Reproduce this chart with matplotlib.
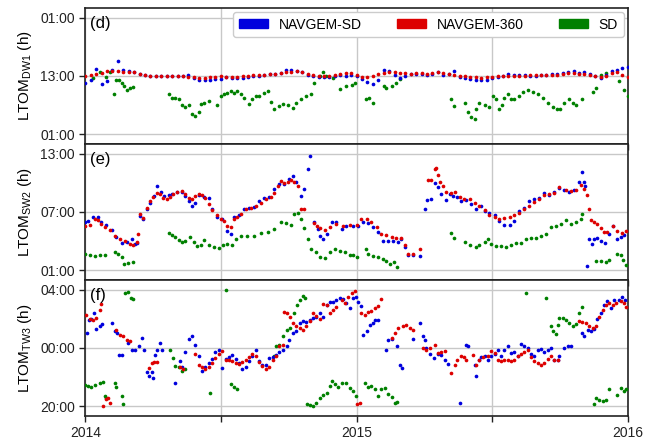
import matplotlib
matplotlib.use("Agg")
import matplotlib.pyplot as plt
from matplotlib.patches import Patch
from matplotlib.ticker import FuncFormatter

plt.rcParams['font.family'] = ['Liberation Sans', 'DejaVu Sans']
plt.rcParams['mathtext.fontset'] = 'custom'
plt.rcParams['mathtext.rm'] = 'Liberation Sans'

BLUE = '#0000dd'
RED = '#dd0000'
GREEN = '#008000'

# ---- panel (d): DW1 -------------------------------------------------------
d_grid_x = [2014.00, 2014.02, 2014.04, 2014.06, 2014.08, 2014.10, 2014.12, 2014.14, 2014.16, 2014.18,
            2014.20, 2014.22, 2014.24, 2014.26, 2014.28, 2014.30, 2014.32, 2014.34, 2014.36, 2014.38,
            2014.40, 2014.42, 2014.44, 2014.46, 2014.48, 2014.50, 2014.52, 2014.54, 2014.56, 2014.58,
            2014.60, 2014.62, 2014.64, 2014.66, 2014.68, 2014.70, 2014.72, 2014.74, 2014.76, 2014.78,
            2014.80, 2014.82, 2014.84, 2014.86, 2014.88, 2014.90, 2014.92, 2014.94, 2014.96, 2014.98,
            2015.00, 2015.02, 2015.04, 2015.06, 2015.08, 2015.10, 2015.12, 2015.14, 2015.16, 2015.18,
            2015.20, 2015.22, 2015.24, 2015.26, 2015.28, 2015.30, 2015.32, 2015.34, 2015.36, 2015.38,
            2015.40, 2015.42, 2015.44, 2015.46, 2015.48, 2015.50, 2015.52, 2015.54, 2015.56, 2015.58,
            2015.60, 2015.62, 2015.64, 2015.66, 2015.68, 2015.70, 2015.72, 2015.74, 2015.76, 2015.78,
            2015.80, 2015.82, 2015.84, 2015.86, 2015.88, 2015.90, 2015.92, 2015.94, 2015.96, 2015.98,
            2016.00]
d_360 = [13.07, 13.27, 13.47, 13.68, 13.95, 14.08, 13.95, 13.88, 13.81, 13.75,
         13.47, 13.27, 13.07, 13.07, 13.07, 13.07, 13.07, 13.00, 12.93, 12.80,
         12.73, 12.59, 12.66, 12.73, 12.80, 12.93, 12.86, 12.80, 12.86, 13.00,
         13.07, 13.14, 13.20, 13.27, 13.41, 13.47, 13.61, 13.75, 13.88, 13.95,
         13.88, 13.47, 13.20, 13.07, 12.93, 12.93, 13.27, 13.47, 13.61, 13.54,
         13.27, 12.86, 12.80, 13.07, 13.34, 13.61, 13.88, 13.88, 13.68, 13.54,
         13.47, 13.61, 13.54, 13.47, 13.61, 13.75, 13.54, 13.34, 13.20, 13.07,
         12.93, 12.80, 12.73, 12.66, 12.73, 12.86, 13.00, 13.07, 13.07, 13.07,
         13.07, 13.07, 13.14, 13.14, 13.20, 13.20, 13.20, 13.27, 13.41, 13.54,
         13.61, 13.47, 13.34, 13.20, 13.07, 12.80, 13.07, 13.61, 13.81, 13.27,
         12.80]
d_sdnav = [11.58, 12.12, 14.40, 11.44, 11.92, 14.29, 16.00, 14.15, 13.95, 13.75,
           13.47, 13.20, 13.00, 12.93, 12.93, 12.93, 13.00, 13.07, 13.07, 13.14,
           12.59, 12.12, 12.25, 12.25, 12.32, 12.39, 12.73, 12.59, 12.52, 12.59,
           12.73, 12.93, 13.07, 13.20, 13.34, 13.47, 13.68, 14.29, 14.15, 13.95,
           13.75, 13.20, 12.93, 12.80, 12.80, 12.80, 12.93, 13.20, 13.07, 13.20,
           13.07, 12.39, 11.85, 11.30, 12.25, 14.15, 13.95, 13.20, 12.66, 12.93,
           13.34, 13.47, 13.34, 13.27, 13.47, 13.75, 13.27, 13.47, 13.95, 12.80,
           12.52, 12.39, 12.25, 12.25, 12.25, 12.52, 12.80, 13.07, 13.47, 13.27,
           13.20, 13.20, 13.07, 13.07, 13.20, 13.20, 13.34, 13.47, 13.61, 13.75,
           13.95, 13.61, 13.75, 13.47, 12.93, 12.59, 13.20, 13.95, 14.15, 14.63,
           14.76]
d_sd_x = [2014.028, 2014.053, 2014.075, 2014.090, 2014.105, 2014.115, 2014.124, 2014.134, 2014.142, 2014.152, 2014.165, 2014.175,
          2014.307, 2014.319, 2014.332, 2014.344, 2014.356, 2014.369, 2014.381, 2014.394, 2014.406, 2014.418,
          2014.425, 2014.439, 2014.455, 2014.486, 2014.499, 2014.511, 2014.524, 2014.536, 2014.548, 2014.561,
          2014.573, 2014.585, 2014.604, 2014.616, 2014.629, 2014.641, 2014.660, 2014.672, 2014.684, 2014.697,
          2014.715, 2014.728, 2014.746, 2014.765, 2014.777, 2014.796, 2014.814, 2014.833, 2014.845, 2014.864,
          2014.876, 2014.889,
          2014.914, 2014.939, 2014.963, 2014.982, 2014.994, 2015.034, 2015.047, 2015.059, 2015.100, 2015.110,
          2015.129, 2015.145, 2015.159,
          2015.349, 2015.358, 2015.400, 2015.411, 2015.423, 2015.435, 2015.441, 2015.453, 2015.472, 2015.490,
          2015.502, 2015.515, 2015.527, 2015.537, 2015.545, 2015.558, 2015.570, 2015.582, 2015.600, 2015.615,
          2015.631, 2015.650, 2015.668, 2015.686, 2015.705, 2015.723, 2015.738, 2015.750, 2015.766, 2015.782,
          2015.797, 2015.809, 2015.833, 2015.870, 2015.882, 2015.901, 2015.919, 2015.968, 2015.987, 2016.000]
d_sd = [12.6, 13.75, 12.8, 13.75, 9.2, 12.25, 12.1, 11.6, 11.0, 10.2, 10.6, 10.8,
        9.2, 8.5, 8.4, 8.2, 7.0, 6.7, 7.0, 5.1, 4.8, 5.5,
        7.2, 7.4, 7.85, 7.0, 8.9, 9.2, 9.5, 9.9, 9.5, 9.9,
        9.2, 8.5, 7.2, 8.2, 8.9, 8.9, 9.4, 9.9, 7.6, 6.2,
        6.8, 7.2, 7.0, 6.5, 7.5, 8.2, 8.9, 9.3, 11.6, 13.0,
        13.75, 12.9,
        12.5, 10.4, 10.9, 11.2, 11.6, 8.2, 8.5, 7.4, 11.0, 10.6,
        10.9, 11.6, 12.4,
        8.3, 6.8, 7.5, 5.5, 4.5, 4.1, 6.2, 7.5, 7.0, 6.7,
        8.9, 8.2, 6.2, 7.0, 8.5, 9.2, 8.3, 8.2, 8.9, 9.7,
        10.1, 9.7, 9.2, 8.5, 7.5, 6.7, 6.3, 6.3, 7.5, 8.2,
        7.5, 7.0, 8.3, 9.7, 10.6, 13.3, 13.6, 11.9, 10.2, 8.9]

# ---- panel (e): SW2 -------------------------------------------------------
e_360_x = [2014.000, 2014.016, 2014.035, 2014.047, 2014.059, 2014.072, 2014.090, 2014.109, 2014.127, 2014.146,
           2014.165, 2014.177, 2014.189, 2014.196, 2014.202, 2014.214, 2014.226, 2014.239, 2014.251, 2014.264,
           2014.276, 2014.288, 2014.301, 2014.313, 2014.325, 2014.338, 2014.356, 2014.369, 2014.381, 2014.394,
           2014.406, 2014.418, 2014.431, 2014.443, 2014.455, 2014.468, 2014.486, 2014.499, 2014.511, 2014.524,
           2014.536, 2014.548, 2014.561, 2014.573, 2014.592, 2014.610, 2014.629, 2014.647, 2014.666, 2014.684,
           2014.697, 2014.709, 2014.722, 2014.734, 2014.746, 2014.759, 2014.771, 2014.783, 2014.796, 2014.808,
           2014.845, 2014.855, 2014.865, 2014.884, 2014.902, 2014.926, 2014.951, 2014.975, 2015.000, 2015.018,
           2015.037, 2015.055, 2015.074, 2015.092, 2015.110, 2015.129, 2015.147, 2015.165, 2015.178, 2015.190,
           2015.208, 2015.233, 2015.263, 2015.276, 2015.288, 2015.294, 2015.300, 2015.309, 2015.319, 2015.331,
           2015.349, 2015.362, 2015.380, 2015.398, 2015.417, 2015.435, 2015.453, 2015.472, 2015.490, 2015.509,
           2015.527, 2015.545, 2015.564, 2015.582, 2015.600, 2015.619, 2015.637, 2015.656, 2015.674, 2015.692,
           2015.711, 2015.729, 2015.748, 2015.772, 2015.790, 2015.809, 2015.827, 2015.839, 2015.848, 2015.858,
           2015.864, 2015.876, 2015.888, 2015.901, 2015.913, 2015.925, 2015.944, 2015.962, 2015.980, 2015.993]
e_360 = [5.51, 5.64, 6.32, 6.19, 5.75, 5.41, 5.17, 4.56, 4.22, 4.05,
         3.71, 3.61, 3.88, 4.73, 6.76, 6.36, 7.44, 8.12, 8.56, 8.97,
         8.80, 8.46, 8.36, 8.56, 8.80, 9.03, 9.14, 8.80, 8.46, 8.36,
         8.63, 8.90, 8.70, 8.46, 7.78, 7.20, 6.66, 6.32, 6.08, 5.58,
         5.41, 6.32, 6.53, 6.76, 7.27, 7.44, 7.61, 7.95, 8.36, 8.56,
         8.97, 9.64, 10.15, 9.98, 10.05, 10.25, 10.05, 9.64, 7.34, 7.27,
         5.90, 5.60, 5.31, 5.17, 5.41, 5.75, 5.51, 5.64, 5.64, 6.32,
         6.25, 5.92, 5.41, 4.73, 4.63, 4.39, 4.29, 4.29, 3.61, 2.69,
         2.69, 3.20, 10.32, 10.25, 11.41, 11.51, 10.83, 10.05, 9.64, 9.07,
         8.97, 9.07, 8.56, 8.36, 8.29, 7.88, 7.61, 7.20, 6.66, 6.53,
         6.25, 6.42, 6.53, 6.66, 6.86, 7.27, 7.61, 8.02, 8.36, 8.70,
         8.80, 8.97, 9.58, 9.24, 9.14, 9.31, 9.81, 9.37, 8.70, 7.34,
         6.19, 5.92, 5.75, 5.31, 4.90, 4.97, 5.51, 5.07, 4.83, 5.07]
e_sdnav_x = [2014.000, 2014.010, 2014.028, 2014.047, 2014.059, 2014.078, 2014.097, 2014.115, 2014.134, 2014.152,
             2014.171, 2014.183, 2014.192, 2014.202, 2014.214, 2014.226, 2014.239, 2014.254, 2014.266, 2014.278,
             2014.291, 2014.307, 2014.319, 2014.338, 2014.356, 2014.369, 2014.381, 2014.394, 2014.406, 2014.418,
             2014.437, 2014.455, 2014.468, 2014.486, 2014.505, 2014.524, 2014.536, 2014.548, 2014.567, 2014.585,
             2014.604, 2014.622, 2014.641, 2014.660, 2014.678, 2014.697, 2014.715, 2014.734, 2014.752, 2014.765,
             2014.777, 2014.796, 2014.808, 2014.821, 2014.830, 2014.845, 2014.857, 2014.865, 2014.877, 2014.890,
             2014.908, 2014.926, 2014.945, 2014.963, 2014.988, 2015.006, 2015.025, 2015.043, 2015.061, 2015.080,
             2015.098, 2015.116, 2015.135, 2015.153, 2015.165, 2015.178, 2015.190, 2015.208, 2015.233, 2015.251,
             2015.260, 2015.276, 2015.288, 2015.300, 2015.313, 2015.328, 2015.343, 2015.355, 2015.370, 2015.386,
             2015.404, 2015.423, 2015.441, 2015.460, 2015.475, 2015.490, 2015.509, 2015.527, 2015.545, 2015.564,
             2015.582, 2015.600, 2015.619, 2015.637, 2015.656, 2015.674, 2015.692, 2015.711, 2015.729, 2015.748,
             2015.766, 2015.784, 2015.803, 2015.819, 2015.831, 2015.839, 2015.843, 2015.849, 2015.858, 2015.868,
             2015.876, 2015.888, 2015.901, 2015.917, 2015.931, 2015.944, 2015.962, 2015.974, 2015.987]
e_sdnav = [5.92, 6.08, 6.53, 6.53, 5.98, 5.64, 5.17, 4.39, 3.81, 3.95,
           4.22, 3.71, 3.81, 6.59, 6.32, 7.27, 7.88, 8.63, 9.71, 9.03,
           8.63, 8.70, 8.90, 9.03, 9.03, 8.63, 8.12, 7.61, 7.95, 8.70,
           8.56, 8.46, 7.27, 6.53, 6.25, 5.07, 4.73, 6.53, 6.66, 7.27,
           7.37, 7.54, 8.12, 8.46, 8.56, 9.37, 9.92, 9.92, 10.39, 10.73,
           10.05, 8.63, 9.37, 11.41, 12.76, 6.00, 5.20, 4.56, 4.22, 4.73,
           5.98, 5.92, 5.24, 5.51, 5.51, 5.58, 5.98, 5.85, 5.41, 4.90,
           4.05, 4.05, 4.05, 3.95, 4.22, 3.37, 2.53, 2.53, 2.46, 7.27,
           8.22, 8.29, 9.98, 9.58, 8.80, 8.22, 8.80, 8.63, 8.56, 8.12,
           8.22, 7.78, 7.27, 7.61, 7.10, 6.93, 6.66, 6.08, 5.64, 5.64,
           6.08, 7.10, 7.44, 8.12, 8.29, 8.46, 8.97, 8.70, 9.03, 9.47,
           9.24, 9.03, 9.31, 10.05, 11.07, 10.05, 9.64, 1.41, 4.22, 3.71,
           4.22, 4.29, 4.05, 3.81, 4.73, 5.51, 4.22, 4.39, 4.63]
e_sd_x = [2014.000, 2014.016, 2014.035, 2014.053, 2014.072, 2014.109, 2014.121, 2014.134, 2014.142, 2014.158,
          2014.175, 2014.307, 2014.319, 2014.332, 2014.344, 2014.356, 2014.369, 2014.387, 2014.400, 2014.412,
          2014.425, 2014.439, 2014.455, 2014.474, 2014.493, 2014.509, 2014.524, 2014.540, 2014.554, 2014.573,
          2014.598, 2014.622, 2014.647, 2014.672, 2014.697, 2014.722, 2014.740, 2014.759, 2014.771, 2014.783,
          2014.796, 2014.808, 2014.821, 2014.833, 2014.851, 2014.865, 2014.884, 2014.902, 2014.920, 2014.939,
          2014.957, 2014.975, 2014.988, 2015.000, 2015.034, 2015.043, 2015.061, 2015.080, 2015.098, 2015.110,
          2015.123, 2015.137, 2015.150, 2015.349, 2015.358, 2015.400, 2015.417, 2015.439, 2015.453, 2015.472,
          2015.484, 2015.496, 2015.515, 2015.533, 2015.551, 2015.570, 2015.588, 2015.607, 2015.625, 2015.643,
          2015.662, 2015.680, 2015.699, 2015.717, 2015.735, 2015.754, 2015.772, 2015.790, 2015.809, 2015.827,
          2015.833, 2015.882, 2015.901, 2015.919, 2015.931, 2015.962, 2015.974, 2015.983, 2015.993]
e_sd = [2.69, 2.53, 2.46, 2.53, 2.53, 2.86, 2.69, 2.36, 1.68, 1.78,
        1.85, 4.80, 4.66, 4.39, 4.15, 3.88, 4.05, 4.39, 3.88, 3.47,
        3.61, 4.15, 3.61, 3.37, 3.27, 3.61, 3.71, 3.61, 4.22, 4.49,
        4.49, 4.49, 4.80, 4.90, 5.24, 5.92, 5.85, 5.64, 6.76, 6.86,
        6.25, 5.31, 4.22, 3.20, 2.86, 2.36, 2.25, 2.93, 3.20, 3.03,
        2.86, 2.53, 2.53, 2.36, 3.20, 2.69, 2.46, 2.36, 2.19, 1.92,
        1.68, 1.85, 1.34, 4.80, 4.32, 3.95, 3.61, 3.37, 3.61, 3.95,
        4.22, 3.71, 3.54, 3.47, 3.37, 3.61, 3.81, 3.81, 4.22, 4.29,
        4.29, 4.49, 4.73, 5.41, 5.51, 5.75, 6.19, 5.75, 5.92, 6.32,
        6.76, 1.92, 1.92, 1.85, 2.02, 2.69, 2.53, 2.02, 1.58]

# ---- panel (f): TW3 (hours relative to midnight) --------------------------
f_360_x = [2014.004, 2014.016, 2014.028, 2014.041, 2014.053, 2014.059, 2014.066, 2014.075, 2014.084, 2014.090,
           2014.115, 2014.127, 2014.140, 2014.152, 2014.165, 2014.236, 2014.245, 2014.254, 2014.264, 2014.350,
           2014.360, 2014.406, 2014.418, 2014.431, 2014.443, 2014.455, 2014.468, 2014.480, 2014.493, 2014.505,
           2014.517, 2014.530, 2014.542, 2014.554, 2014.567, 2014.579, 2014.592, 2014.604, 2014.616, 2014.629,
           2014.641, 2014.653, 2014.666, 2014.678, 2014.691, 2014.703, 2014.715, 2014.728, 2014.734, 2014.744,
           2014.756, 2014.765, 2014.777, 2014.790, 2014.802, 2014.814, 2014.827, 2014.839, 2014.851, 2014.864,
           2014.877, 2014.890, 2014.902, 2014.914, 2014.926, 2014.945, 2014.957, 2014.969, 2014.982, 2014.994,
           2015.000, 2015.012, 2015.018, 2015.031, 2015.043, 2015.055, 2015.067, 2015.080, 2015.092, 2015.129,
           2015.141, 2015.153, 2015.172, 2015.184, 2015.196, 2015.208, 2015.245, 2015.257, 2015.270, 2015.288,
           2015.300, 2015.313, 2015.325, 2015.349, 2015.362, 2015.370, 2015.386, 2015.398, 2015.404, 2015.431,
           2015.441, 2015.453, 2015.466, 2015.484, 2015.496, 2015.509, 2015.521, 2015.533, 2015.545, 2015.558,
           2015.570, 2015.582, 2015.594, 2015.607, 2015.619, 2015.631, 2015.643, 2015.656, 2015.668, 2015.680,
           2015.692, 2015.705, 2015.717, 2015.729, 2015.741, 2015.821, 2015.833, 2015.846, 2015.858, 2015.870,
           2015.882, 2015.895, 2015.907, 2015.919, 2015.931, 2015.944, 2015.956, 2015.974, 2015.987, 2015.995]
f_360 = [2.27, 1.98, 1.89, 2.05, 2.61, 3.02, -3.98, -3.52, -3.41, -3.79,
         1.25, 0.91, 0.80, 0.57, 0.45, -1.36, -1.02, -0.98, -0.98, -1.30,
         -1.43, -0.39, -1.20, -1.30, -1.43, -1.30, -1.02, -0.68, -0.39, -0.23,
         -0.80, -0.84, -0.91, -1.02, -1.07, -0.98, -0.80, -0.61, -0.39, -0.57,
         -0.98, -1.25, -1.43, -1.30, -0.80, -0.52, 0.11, 0.23, 2.50, 2.39,
         2.16, 1.70, 1.48, 1.36, 1.25, 1.48, 1.82, 2.39, 2.20, 1.98,
         3.02, 2.95, 2.39, 2.61, 2.84, 3.30, 3.11, 3.48, 3.75, 3.93,
         -3.86, -3.79, 2.39, 2.27, 2.50, 2.57, 2.73, 2.88, 3.34, 0.68,
         1.02, 1.36, 1.48, 1.59, 1.36, 1.25, 0.00, -0.11, 0.00, 0.23,
         -0.34, -0.30, -0.23, -1.70, -1.14, -0.80, -0.52, -0.61, -0.80, -0.45,
         -1.14, -0.80, -0.61, -0.57, -0.23, -0.34, -0.80, -0.91, -0.80, -0.84,
         -0.91, -0.84, -0.52, -0.39, -0.30, -0.11, -0.61, -0.91, -1.02, -1.14,
         -1.02, -0.75, -0.52, -0.80, -0.80, 1.82, 1.75, 1.70, 1.48, 1.36,
         1.48, 2.16, 2.61, 2.95, 3.07, 2.95, 3.07, 3.25, 3.07, 2.84]
f_sdnav_x = [2014.006, 2014.014, 2014.022, 2014.031, 2014.041, 2014.053, 2014.063, 2014.097, 2014.109, 2014.118,
             2014.125, 2014.134, 2014.158, 2014.171, 2014.183, 2014.199, 2014.208, 2014.217, 2014.226, 2014.236,
             2014.245, 2014.251, 2014.257, 2014.264, 2014.274, 2014.282, 2014.332, 2014.350, 2014.356, 2014.369,
             2014.381, 2014.394, 2014.406, 2014.418, 2014.431, 2014.443, 2014.455, 2014.468, 2014.480, 2014.493,
             2014.505, 2014.517, 2014.530, 2014.542, 2014.554, 2014.567, 2014.579, 2014.592, 2014.604, 2014.616,
             2014.629, 2014.641, 2014.653, 2014.666, 2014.678, 2014.691, 2014.703, 2014.715, 2014.728, 2014.744,
             2014.752, 2014.765, 2014.777, 2014.790, 2014.802, 2014.814, 2014.827, 2014.839, 2014.851, 2014.864,
             2014.877, 2014.890, 2014.902, 2014.914, 2014.926, 2014.939, 2014.951, 2014.963, 2014.975, 2014.988,
             2014.998, 2015.006, 2015.015, 2015.025, 2015.037, 2015.049, 2015.061, 2015.067, 2015.080, 2015.108,
             2015.116, 2015.129, 2015.150, 2015.159, 2015.168, 2015.208, 2015.233, 2015.245, 2015.251, 2015.257,
             2015.270, 2015.284, 2015.300, 2015.313, 2015.325, 2015.337, 2015.382, 2015.404, 2015.411, 2015.435,
             2015.441, 2015.451, 2015.460, 2015.472, 2015.484, 2015.496, 2015.509, 2015.521, 2015.533, 2015.545,
             2015.558, 2015.570, 2015.582, 2015.594, 2015.607, 2015.619, 2015.631, 2015.643, 2015.656, 2015.668,
             2015.680, 2015.692, 2015.705, 2015.717, 2015.729, 2015.741, 2015.748, 2015.766, 2015.778, 2015.790,
             2015.833, 2015.839, 2015.852, 2015.864, 2015.876, 2015.888, 2015.901, 2015.913, 2015.925, 2015.938,
             2015.950, 2015.968, 2015.980, 2015.990]
f_sdnav = [1.02, 1.93, 1.98, 2.39, 1.30, 1.48, 1.64, 1.70, 1.14, 1.02,
           -0.45, -0.45, 0.34, -0.11, -0.16, 0.11, 0.68, -0.16, -1.66, -1.93,
           -1.66, -2.05, -0.45, -0.11, 0.34, -0.16, -2.39, -0.91, -1.30, -0.30,
           0.61, 0.84, 0.23, -0.52, -1.59, -1.30, -1.02, -0.75, -0.30, -0.11,
           -1.36, -0.75, -0.61, -0.45, -0.75, -1.02, -1.43, -1.30, -0.91, -0.57,
           -0.16, -0.91, -1.20, -1.20, -0.68, -0.61, -0.45, -0.30, -0.11, 0.11,
           0.57, 1.02, 1.14, 1.70, 1.82, 1.75, 1.93, 2.05, 2.16, 2.39,
           2.16, 2.95, 3.18, 3.18, 3.30, 3.41, 3.34, 3.11, 2.73, 3.41,
           3.52, 3.18, 2.88, 0.91, 1.14, 1.59, 1.70, 1.93, 1.89, -0.11,
           0.57, 0.61, 0.11, -1.14, -1.36, 0.61, 1.70, 0.80, 0.57, 0.00,
           -0.39, -0.68, -0.39, -0.45, -0.80, -1.07, -3.79, 0.23, 0.11, -1.14,
           -1.93, -0.80, -0.61, -0.52, -0.84, -0.57, -0.39, -0.11, -0.57, -0.16,
           0.11, -0.34, -0.30, -0.57, 0.30, 0.16, 0.00, -0.39, -0.52, -0.16,
           -0.07, -0.30, -0.16, 0.00, -0.80, -0.84, -0.57, 0.00, 0.11, 0.16,
           1.02, 0.80, 1.25, 1.14, 1.30, 1.98, 2.43, 2.95, 3.25, 2.73,
           3.30, 3.30, 3.52, 3.30]
f_sd_x = [2014.000, 2014.010, 2014.022, 2014.035, 2014.053, 2014.066, 2014.072, 2014.078, 2014.109, 2014.115,
          2014.134, 2014.140, 2014.146, 2014.158, 2014.167, 2014.177, 2014.313, 2014.325, 2014.332, 2014.344,
          2014.356, 2014.369, 2014.459, 2014.517, 2014.536, 2014.548, 2014.561, 2014.694, 2014.703, 2014.715,
          2014.728, 2014.744, 2014.756, 2014.771, 2014.781, 2014.790, 2014.802, 2014.811, 2014.818, 2014.827,
          2014.839, 2014.851, 2014.865, 2014.877, 2014.890, 2014.902, 2014.908, 2014.920, 2014.933, 2014.945,
          2014.963, 2014.975, 2014.988, 2014.998, 2015.031, 2015.043, 2015.055, 2015.067, 2015.080, 2015.092,
          2015.104, 2015.116, 2015.129, 2015.141, 2015.150, 2015.625, 2015.699, 2015.717, 2015.723, 2015.735,
          2015.741, 2015.748, 2015.760, 2015.772, 2015.784, 2015.797, 2015.809, 2015.819, 2015.833, 2015.874,
          2015.882, 2015.895, 2015.907, 2015.919, 2015.931, 2015.962, 2015.974, 2015.987, 2015.993]
f_sd = [-2.57, -2.61, -2.66, -2.57, -2.39, -2.34, -3.30, -3.41, -2.43, -2.66,
        -3.30, -3.86, 3.80, 3.84, 3.43, 3.34, -0.11, -0.68, -1.25, -1.30,
        -1.59, -1.43, -3.07, 3.98, -2.50, -2.66, -2.80, -0.52, 0.16, 0.23,
        0.80, 1.25, 1.36, 2.39, 2.95, 3.30, 3.57, 3.46, -3.86, -3.93,
        -3.98, -3.80, -3.41, -3.25, -3.07, -2.61, -2.27, -2.50, -2.66, -2.39,
        -2.39, -2.73, -2.95, -3.30, -2.43, -2.66, -2.61, -2.84, -3.30, -2.84,
        -2.73, -3.18, -3.34, -3.79, -3.70, 3.75, 3.41, 1.48, 1.14, 0.98,
        1.59, 2.05, 2.05, 1.93, 1.70, 1.48, 1.66, 2.43, 2.84, -3.86,
        -3.41, -3.57, -3.64, -3.57, -2.84, -3.25, -2.73, -2.95, -2.84]


def hour_label(h, pos):
    return '%02d:00' % (int(round(h)) % 24)


fig, axes = plt.subplots(3, 1, figsize=(6.56, 4.43), dpi=100, sharex=True)
fig.subplots_adjust(left=0.130, right=0.957, top=0.982, bottom=0.061, hspace=0)

panels = [
    (axes[0], d_grid_x, d_sdnav, d_grid_x, d_360, d_sd_x, d_sd, [1, 13, 25], (-1, 27), 'DW1', '(d)'),
    (axes[1], e_sdnav_x, e_sdnav, e_360_x, e_360, e_sd_x, e_sd, [1, 7, 13], (0, 14), 'SW2', '(e)'),
    (axes[2], f_sdnav_x, f_sdnav, f_360_x, f_360, f_sd_x, f_sd, [-4, 0, 4], (-4.67, 4.67), 'TW3', '(f)'),
]

for ax, bx, by, rx, ry, gx, gy, yt, ylim, sub, tag in panels:
    ax.scatter(gx, gy, s=7, color=GREEN, linewidths=0, zorder=3)
    ax.scatter(bx, by, s=7, color=BLUE, linewidths=0, zorder=3)
    ax.scatter(rx, ry, s=7, color=RED, linewidths=0, zorder=3)
    ax.set_ylim(ylim)
    ax.set_yticks(yt)
    ax.yaxis.set_major_formatter(FuncFormatter(hour_label))
    ax.set_ylabel('LTOM$_{\\mathrm{%s}}$ (h)' % sub, fontsize=11)
    ax.grid(True, color='#c8c8c8', linewidth=1.0, zorder=0)
    ax.set_axisbelow(True)
    ax.tick_params(labelsize=10, length=4, width=1, direction='out', colors='#222222')
    for sp in ax.spines.values():
        sp.set_linewidth(1.2)
        sp.set_color('#222222')
    ax.text(0.008, 0.94, tag, transform=ax.transAxes, fontsize=12, va='top', ha='left')

axes[2].set_xlim(2014, 2016)
axes[2].set_xticks([2014, 2014.5, 2015, 2015.5, 2016])
axes[2].set_xticklabels(['2014', '', '2015', '', '2016'])
fig.align_ylabels(axes)

handles = [Patch(color=BLUE, label='NAVGEM-SD'),
           Patch(color=RED, label='NAVGEM-360'),
           Patch(color=GREEN, label='SD')]
leg = axes[0].legend(handles=handles, loc='upper right', ncol=3, fontsize=10,
                     handlelength=2.1, handleheight=0.6, handletextpad=0.8,
                     columnspacing=2.5, borderaxespad=0.3, borderpad=0.4,
                     fancybox=True, framealpha=1, edgecolor='#cccccc')
leg.set_zorder(5)

plt.savefig('out.png', dpi=100)
